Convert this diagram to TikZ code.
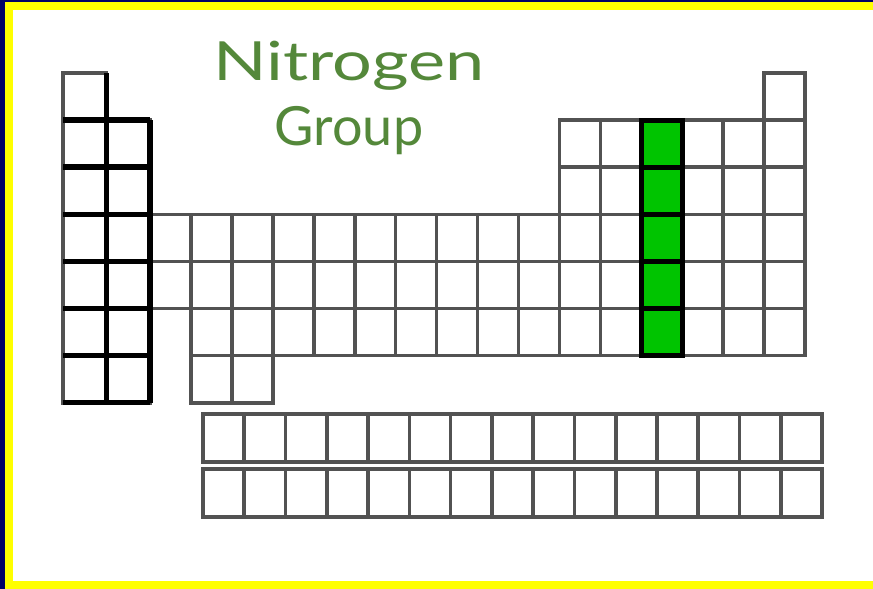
\documentclass[tikz,border=0pt]{standalone}
\usepackage{fontspec}
\usetikzlibrary{positioning}
\definecolor{frameblue}{RGB}{0,0,102}
\definecolor{frameyellow}{RGB}{255,255,0}
\definecolor{groupgreen}{RGB}{0,196,0}
\definecolor{titlegreen}{RGB}{84,136,58}
\newfontfamily\titlefont{Lato}

\begin{document}
\begin{tikzpicture}[x=1pt,y=-1pt,
    cell/.style={draw=black!68,line width=3.6pt,inner sep=0pt,outer sep=0pt,minimum height=47.1pt},
    heavy/.style={black,line width=5.5pt,line cap=square},
    groupcell/.style={fill=groupgreen,draw=black,line width=5pt},
    title/.style={anchor=base,text=titlegreen,font=\titlefont\fontsize{54}{60}\selectfont}]
  \useasboundingbox (0,0) rectangle (873,589);
  % frame
  \fill[frameblue] (0,0) rectangle (873,589);
  \fill[frameyellow] (5,2) rectangle (873,589);
  \fill[white] (13,10) rectangle (873,581);

  % main table, row by row
  \foreach \r/\cols in {1/{1,18},2/{1,2,13,14,...,18},3/{1,2,13,14,...,18},
                        4/{1,2,...,18},5/{1,2,...,18},6/{1,2,4,5,...,18},7/{1,2,4,5}}{
    \foreach \c in \cols{
      \pgfmathsetmacro{\w}{\c<3 ? 43.5 : 40.94}
      \pgfmathsetmacro{\xl}{\c<3 ? 63+43.5*(\c-1) : 150+40.94*(\c-3)}
      \node[cell,minimum width=\w pt] (c\r-\c) at (\xl+\w/2,73+47.1*\r-23.55) {};
    }
  }
  % lanthanides / actinides
  \foreach \r in {1,2}{
    \foreach \c in {1,...,15}{
      \node[cell,minimum width=41.27pt,minimum height=48pt] (l\r-\c) at (203+41.27*\c-20.635,414+55*\r-31) {};
    }
  }

  % alkali block outline
  \draw[heavy] (c1-1.north east) -- (c7-1.south east);
  \draw[heavy] (c2-2.north east) -- (c7-2.south east);
  \foreach \r in {2,...,7}
    \draw[heavy] (c\r-1.north west) -- (c\r-2.north east);
  \draw[heavy] (c7-1.south west) -- (c7-2.south east);

  % group 15
  \foreach \r in {2,...,6}
    \draw[groupcell] (c\r-15.north west) rectangle (c\r-15.south east);

  \node[title] (name) at (349,80) {\scalebox{1.3}[1]{Nitrogen}};
  \node[title] (group) at (349,145) {Group};
\end{tikzpicture}
\end{document}
